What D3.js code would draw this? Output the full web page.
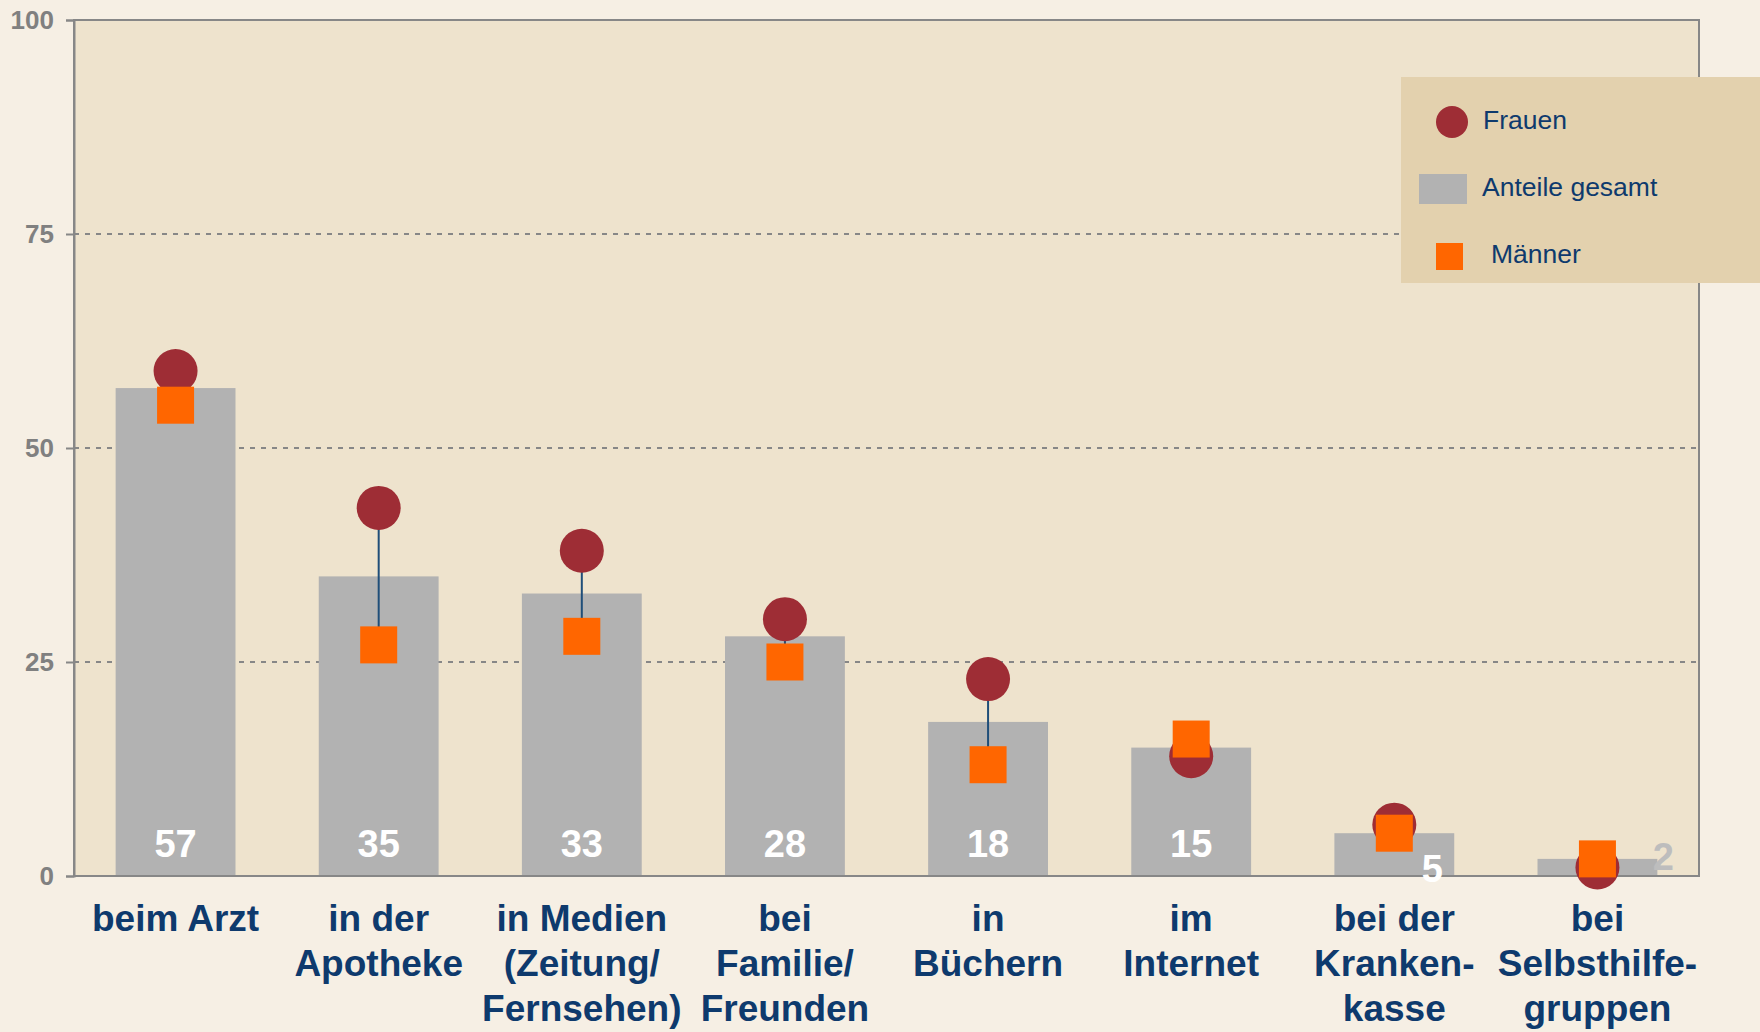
<!DOCTYPE html>
<html>
<head>
<meta charset="utf-8">
<script src="https://cdn.jsdelivr.net/npm/d3@7"></script>
<style>
  html, body { margin: 0; padding: 0; background: #F6EFE4; }
  svg { display: block; font-family: "Liberation Sans", Arial, Helvetica, sans-serif; }
</style>
</head>
<body>
<svg id="chart" width="1760" height="1032"></svg>
<script>
// ---- data ----
const categories = [
  ["beim Arzt"],
  ["in der", "Apotheke"],
  ["in Medien", "(Zeitung/", "Fernsehen)"],
  ["bei", "Familie/", "Freunden"],
  ["in", "Büchern"],
  ["im", "Internet"],
  ["bei der", "Kranken-", "kasse"],
  ["bei", "Selbsthilfe-", "gruppen"]
];
const gesamt = [57, 35, 33, 28, 18, 15, 5, 2];
const frauen = [59, 43, 38, 30, 23, 14, 6, 1];
const maenner = [55, 27, 28, 25, 13, 16, 5, 2];
const yTicks = [0, 25, 50, 75, 100];
const legendLabels = ["Frauen", "Anteile gesamt", "Männer"];

// ---- layout ----
const svg = d3.select("#chart");
const L = 74, R = 1699, T = 20, B = 876;
const colBar = "#B2B2B2", colCircle = "#9E2D35", colSquare = "#FF6600";
const navy = "#0E3A6D", axisGray = "#878787";

const idx = d3.range(categories.length);
const x = d3.scaleBand().domain(idx).range([L, R]).paddingInner(0.41).paddingOuter(0.205);
const y = d3.scaleLinear().domain([0, 100]).range([B, T]);

// plot background
svg.append("rect").attr("x", L).attr("y", T).attr("width", R - L).attr("height", B - T)
  .attr("fill", "#EEE3CD");

// grid lines
svg.append("g").selectAll("line").data(yTicks.filter(d => d > 0 && d < 100)).join("line")
  .attr("x1", L).attr("x2", R).attr("y1", d => y(d)).attr("y2", d => y(d))
  .attr("stroke", axisGray).attr("stroke-width", 2).attr("stroke-dasharray", "5,6");

// bars
svg.append("g").selectAll("rect").data(idx).join("rect")
  .attr("x", i => x(i)).attr("width", x.bandwidth())
  .attr("y", i => y(gesamt[i])).attr("height", i => B - y(gesamt[i]))
  .attr("fill", colBar);

// frame
svg.append("rect").attr("x", L).attr("y", T).attr("width", R - L).attr("height", B - T)
  .attr("fill", "none").attr("stroke", axisGray).attr("stroke-width", 2);

// y axis
const yAxis = d3.axisLeft(y).tickValues(yTicks).tickSize(8).tickPadding(12).tickFormat(d3.format("d"));
const gy = svg.append("g").attr("transform", `translate(${L},0)`).call(yAxis);
gy.select(".domain").attr("stroke", axisGray).attr("stroke-width", 2);
gy.selectAll(".tick line").attr("stroke", axisGray).attr("stroke-width", 2);
gy.selectAll(".tick text").attr("fill", "#808080").attr("font-size", 26).attr("font-weight", "bold")
  .attr("font-family", "'Liberation Sans', Arial, sans-serif");

// connectors
const cx = i => x(i) + x.bandwidth() / 2;
svg.append("g").selectAll("line").data(idx).join("line")
  .attr("x1", cx).attr("x2", cx)
  .attr("y1", i => y(frauen[i])).attr("y2", i => y(maenner[i]))
  .attr("stroke", "#1F4E79").attr("stroke-width", 2);

// Frauen circles
svg.append("g").selectAll("circle").data(idx).join("circle")
  .attr("cx", cx).attr("cy", i => y(frauen[i])).attr("r", 22)
  .attr("fill", colCircle);

// Männer squares
const sq = 37;
svg.append("g").selectAll("rect").data(idx).join("rect")
  .attr("x", i => cx(i) - sq / 2).attr("y", i => y(maenner[i]) - sq / 2)
  .attr("width", sq).attr("height", sq).attr("fill", colSquare);

// value labels
svg.append("g").selectAll("text").data(idx).join("text")
  .attr("x", i => gesamt[i] >= 10 ? cx(i) : (gesamt[i] >= 4 ? cx(i) + 38 : x(i) + x.bandwidth() + 6))
  .attr("y", i => gesamt[i] >= 10 ? 857 : (gesamt[i] >= 4 ? 882 : 870))
  .attr("text-anchor", "middle")
  .attr("font-size", 38).attr("font-weight", "bold")
  .attr("fill", i => gesamt[i] >= 4 ? "#FFFFFF" : "#BDBDBD")
  .text(i => gesamt[i]);

// category labels
const cat = svg.append("g").selectAll("text").data(idx).join("text")
  .attr("x", cx).attr("y", 931)
  .attr("text-anchor", "middle").attr("font-size", 37).attr("font-weight", "bold")
  .attr("fill", navy);
cat.selectAll("tspan").data(i => categories[i].map(t => ({ t, i }))).join("tspan")
  .attr("x", d => cx(d.i)).attr("dy", (d, k) => k === 0 ? 0 : 45)
  .text(d => d.t);

// legend
const lg = svg.append("g");
lg.append("rect").attr("x", 1401).attr("y", 77).attr("width", 400).attr("height", 206).attr("fill", "#E3D1AE");
lg.append("circle").attr("cx", 1452).attr("cy", 122).attr("r", 16).attr("fill", colCircle);
lg.append("rect").attr("x", 1419).attr("y", 174).attr("width", 48).attr("height", 30).attr("fill", colBar);
lg.append("rect").attr("x", 1436).attr("y", 243).attr("width", 27).attr("height", 27).attr("fill", colSquare);
const legendPos = [[1483, 129], [1482, 196], [1491, 263]];
lg.selectAll("text.leg").data(legendLabels).join("text").attr("class", "leg")
  .attr("x", (d, k) => legendPos[k][0]).attr("y", (d, k) => legendPos[k][1])
  .attr("font-size", 26.5).attr("fill", navy).text(d => d);
</script>
</body>
</html>
